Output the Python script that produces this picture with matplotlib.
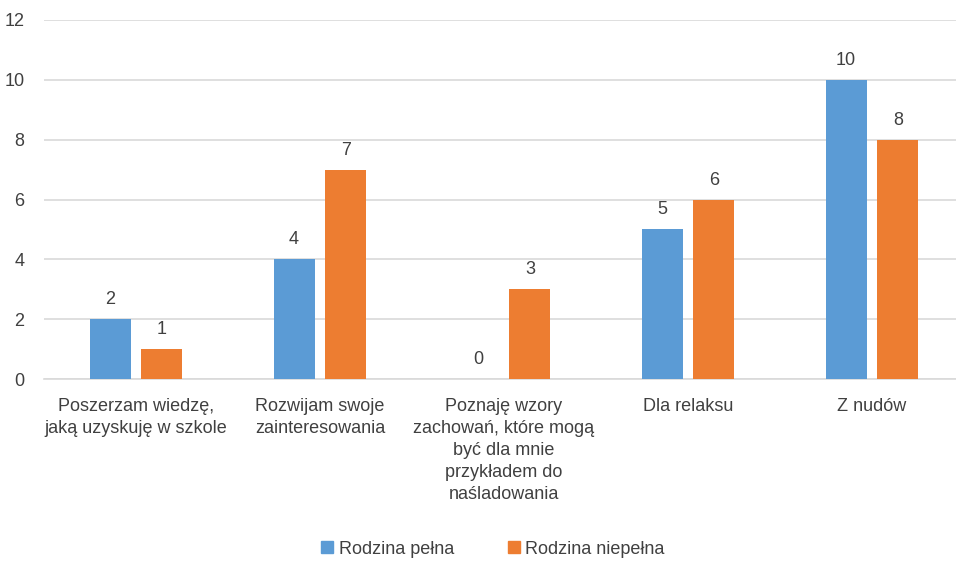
import numpy as np
import matplotlib
matplotlib.use('agg')
import matplotlib.pyplot as plt
from matplotlib.patches import Patch

plt.rcParams['font.family'] = ['Liberation Sans Narrow', 'Liberation Sans', 'DejaVu Sans']

categories = ['Poszerzam wiedzę,\njaką uzyskuję w szkole',
              'Rozwijam swoje\nzainteresowania',
              'Poznaję wzory\nzachowań, które mogą\nbyć dla mnie\nprzykładem do\nnaśladowania',
              'Dla relaksu',
              'Z nudów']
pelna = [2, 4, 0, 5, 10]
niepelna = [1, 7, 3, 6, 8]
series_names = ['Rodzina pełna', 'Rodzina niepełna']

c_blue, c_orange = '#5B9BD5', '#ED7D31'
txt = '#404040'
fs = 13

fig = plt.figure(figsize=(9.56, 5.61), dpi=100)
ax = fig.add_axes([44/956, 1 - 379/561, 920/956, 359/561])

x = np.arange(len(categories))
w = 0.223
off = 0.141
b1 = ax.bar(x - off, pelna, w, color=c_blue, zorder=3)
b2 = ax.bar(x + off, niepelna, w, color=c_orange, zorder=3)

for bars, vals in ((b1, pelna), (b2, niepelna)):
    for b, v in zip(bars, vals):
        ax.annotate('%d' % v, (b.get_x() + b.get_width()/2, v),
                    xytext=(0, 14), textcoords='offset points',
                    ha='center', va='center', fontsize=fs, color=txt)

ax.set_xlim(-0.5, len(categories) - 0.5)
ax.set_ylim(0, 12)
ax.set_yticks(range(0, 13, 2))
ax.grid(axis='y', color='#D9D9D9', linewidth=1.2, zorder=0)
for s in ['top', 'right', 'left']:
    ax.spines[s].set_visible(False)
ax.spines['bottom'].set_color('#D9D9D9')
ax.spines['bottom'].set_linewidth(1.2)
ax.tick_params(length=0, labelsize=fs, colors=txt)
ax.tick_params(axis='y', pad=14)
ax.tick_params(axis='x', pad=14)
ax.set_xticks(x)
ax.set_xticklabels(categories, linespacing=1.38)

handles = [Patch(color=c_blue), Patch(color=c_orange)]
fig.legend(handles, series_names, loc='center', bbox_to_anchor=(493/956, 1 - 549/561),
           ncol=2, frameon=False, fontsize=fs, handlelength=0.65, handleheight=0.65,
           handletextpad=0.3, columnspacing=3.0, labelcolor=txt)

fig.savefig('out.png', dpi=100)
